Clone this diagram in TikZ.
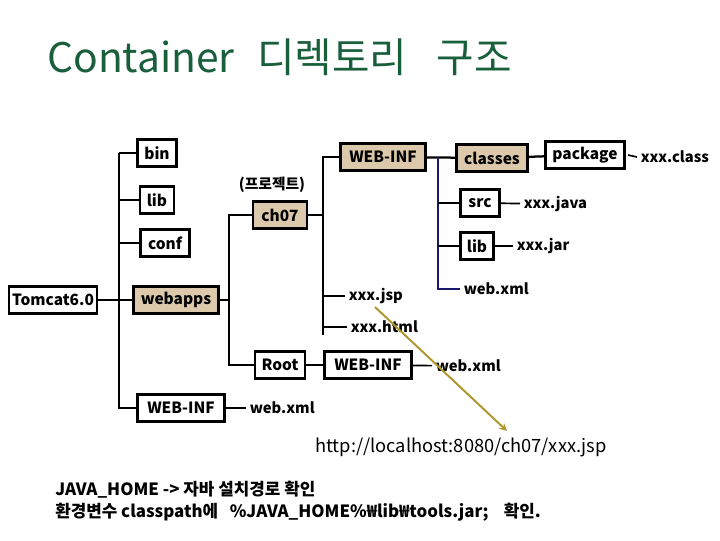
\documentclass[tikz,border=0pt]{standalone}
\usepackage{fontspec}
\setmainfont{Noto Sans CJK KR}
\usetikzlibrary{arrows,positioning}
\definecolor{titlegreen}{RGB}{25,95,60}
\definecolor{dirtan}{RGB}{220,200,170}
\definecolor{treenavy}{RGB}{25,25,110}
\definecolor{urlolive}{RGB}{175,150,45}
\def\pxu{0.025cm}
\tikzset{
  dirbox/.style   = {draw, line width=2pt, minimum height=27*\pxu, minimum width=#1*\pxu, inner sep=1pt, font=\fontsize{11}{13}\selectfont\bfseries},
  appbox/.style   = {dirbox=#1, fill=dirtan},
  filename/.style = {anchor=west, inner sep=2.5pt, font=\fontsize{10.5}{12}\selectfont\bfseries},
  notetext/.style = {anchor=west, inner sep=0, font=\fontsize{12}{14}\selectfont\bfseries},
  treeedge/.style = {black, line width=1.6pt},
  leafedge/.style = {black, line width=1.2pt},
  infedge/.style  = {treenavy, line width=1pt},
  urledge/.style  = {urlolive, line width=1.4pt, ->, >=stealth},
}

\begin{document}
\begin{tikzpicture}[x=\pxu, y=-\pxu]
    \useasboundingbox (0,0) rectangle (720,540);
    \node[anchor=base west, inner sep=0, text=titlegreen, font=\fontsize{29}{31}\selectfont] (title) at (47,72) {Container\hspace{16pt}디렉토리\hspace{21pt}구조};

    % Tomcat
    \node[dirbox=88] (tomcat) at (53,300) {Tomcat6.0};
    \node[dirbox=39] (bin) at (157,153) {bin};
    \node[dirbox=34] (lib) at (157,200) {lib};
    \node[dirbox=49] (conf) at (165,243) {conf};
    \node[appbox=85] (webapps) at (176,300) {webapps};
    \node[dirbox=87] (tcinf) at (181,408) {WEB-INF};
    \node[filename] (tcxml) at (246,408) {web.xml};
    \coordinate (tctrunk) at (119,153);

    % webapps
    \node[appbox=54] (ch07) at (280,215) {ch07};
    \node[font=\fontsize{10.5}{12}\selectfont\bfseries] (proj) at (272,185) {(프로젝트)};
    \node[dirbox=50] (root) at (280,365) {Root};
    \node[dirbox=87] (rootinf) at (368,365) {WEB-INF};
    \node[filename] (rootxml) at (432,366) {web.xml};
    \coordinate (apptrunk) at (229,215);

    % ch07
    \node[appbox=85] (chinf) at (383,157) {WEB-INF};
    \node[filename] (jsp) at (345,296) {xxx.jsp};
    \node[filename] (html) at (347,327) {xxx.html};
    \coordinate (chtrunk) at (323,157);
    \coordinate (chend) at (323,335);

    % WEB-INF
    \node[appbox=71] (classes) at (492,158) {classes};
    \node[dirbox=79] (package) at (585,155) {package};
    \node[filename] (classfile) at (637,157) {xxx.class};
    \node[dirbox=39] (src) at (480,203) {src};
    \node[filename] (javafile) at (520,204) {xxx.java};
    \node[dirbox=33] (jlib) at (477,246) {lib};
    \node[filename] (jarfile) at (513,246) {xxx.jar};
    \node[filename] (chxml) at (460,289) {web.xml};
    \coordinate (inftrunk) at (438,157);

    % URL
    \coordinate (urlfrom) at (375,307);
    \node[anchor=west, inner sep=0, font=\fontsize{13}{15}\selectfont] (url) at (315,447) {http://localhost:8080/ch07/xxx.jsp};
    \coordinate (urlto) at (507,431);

    % 안내
    \node[notetext] (javahome) at (55,490) {JAVA\_HOME -> 자바 설치경로 확인};
    \node[notetext] (classpath) at (55,512) {환경변수 classpath에 \ \ \%JAVA\_HOME\%₩lib₩tools.jar; \ \ \ 확인.};

    \draw[treeedge] (tomcat) -- (webapps);
    \draw[treeedge] (tctrunk) |- (tcinf);
    \draw[treeedge] (bin.west -| tctrunk) -- (bin);
    \draw[treeedge] (lib.west -| tctrunk) -- (lib);
    \draw[treeedge] (conf.west -| tctrunk) -- (conf);
    \draw[leafedge] (tcinf) -- (tcxml);

    \draw[treeedge] (webapps.east) -- (webapps.east -| apptrunk);
    \draw[treeedge] (ch07) -- (ch07.west -| apptrunk) |- (root);
    \draw[treeedge] (root) -- (rootinf);
    \draw[leafedge] (rootinf) -- (rootxml);

    \draw[treeedge] (ch07) -- (ch07.east -| chtrunk);
    \draw[treeedge] (chinf) -- (chtrunk) -- (chend);
    \draw[treeedge] (jsp.west -| chtrunk) -- (jsp);
    \draw[treeedge] (html.west -| chtrunk) -- (html);

    \draw[treeedge] (chinf) -- (classes);
    \draw[infedge] (inftrunk) |- (chxml);
    \draw[treeedge] (src.west -| inftrunk) -- (src);
    \draw[treeedge] (jlib.west -| inftrunk) -- (jlib);
    \draw[treeedge] (classes) -- (package);
    \draw[leafedge] (package.east) ++(2,0) -- (classfile.west);
    \draw[leafedge] (src) -- (javafile);
    \draw[leafedge] (jlib) -- (jarfile);

    \draw[urledge] (urlfrom) -- (urlto);
\end{tikzpicture}
\end{document}
